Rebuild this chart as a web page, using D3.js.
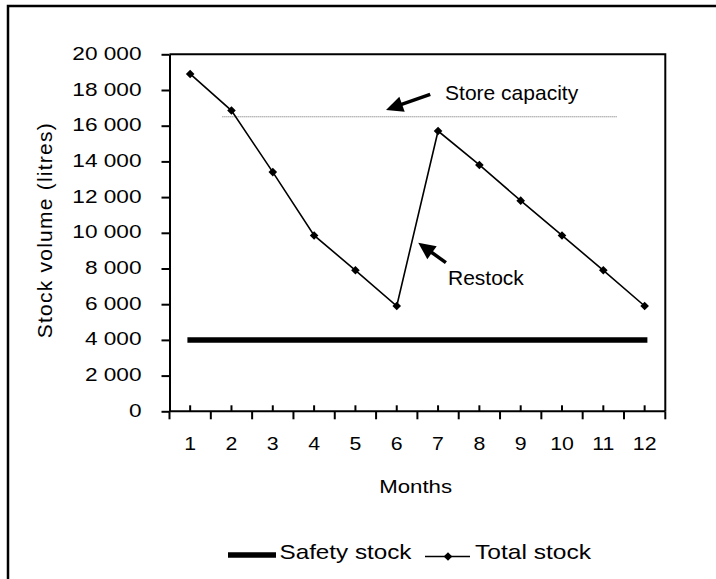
<!DOCTYPE html>
<html>
<head>
<meta charset="utf-8">
<script src="https://cdn.jsdelivr.net/npm/d3@7"></script>
<style>
  html, body { margin: 0; padding: 0; background: #fff; }
  svg { display: block; font-family: Arial, "Liberation Sans", sans-serif; }
</style>
</head>
<body>
<svg id="chart" width="716" height="579"></svg>
<script>
const months = [1, 2, 3, 4, 5, 6, 7, 8, 9, 10, 11, 12];
const totalStock = [18900, 16850, 13400, 9850, 7900, 5900, 15700, 13800, 11800, 9850, 7900, 5900];
const safetyStock = [4000, 4000, 4000, 4000, 4000, 4000, 4000, 4000, 4000, 4000, 4000, 4000];
const yTicks = [0, 2000, 4000, 6000, 8000, 10000, 12000, 14000, 16000, 18000, 20000];
const storeCapacity = 16500;
const capacitySpan = [1.78, 11.33];          // months covered by the capacity line
// annotation arrows, in month / litre units: [tail, tip]
const capacityArrow = [[6.81, 17760], [5.74, 16880]];
const restockArrow = [[7.19, 8325], [6.52, 9445]];
const capacityLabel = [7.17, 17440, "Store capacity"];
const restockLabel = [7.24, 7076, "Restock"];

const svg = d3.select("#chart");
const pLeft = 169.5, pRight = 665.3, pTop = 54.3, pBottom = 411.3;

const x = d3.scaleBand().domain(months).range([pLeft, pRight]);
const xPos = d3.scaleLinear().domain([0.5, 12.5]).range([pLeft, pRight]);
const y = d3.scaleLinear().domain([0, 20000]).range([pBottom, pTop]);

// stretch text horizontally, the source text looks wide
function stretch(sel, k) {
  sel.each(function () {
    const w = this.getComputedTextLength();
    this.setAttribute("textLength", w * k);
    this.setAttribute("lengthAdjust", "spacingAndGlyphs");
  });
}

// outer frame (cropped at right / bottom)
svg.append("path")
  .attr("d", "M8,579 L8,6 L716,6")
  .attr("fill", "none").attr("stroke", "#000").attr("stroke-width", 2.5);

// plot border top + right
svg.append("path")
  .attr("d", `M${pLeft},${pTop} L${pRight},${pTop} L${pRight},${pBottom}`)
  .attr("fill", "none").attr("stroke", "#000").attr("stroke-width", 2);

// y axis
const fmt = v => d3.format(",")(v).replace(",", " ");
const yAxis = svg.append("g")
  .attr("transform", `translate(${pLeft},0)`)
  .call(d3.axisLeft(y).tickValues(yTicks).tickSize(8).tickSizeOuter(0).tickPadding(20).tickFormat(fmt));
yAxis.select(".domain").attr("stroke-width", 2);
yAxis.selectAll(".tick line").attr("stroke-width", 2);
yAxis.selectAll(".tick text")
  .attr("font-size", 19).attr("fill", "#000")
  .attr("dy", null).attr("y", 5)
  .call(stretch, 1.19);
yAxis.attr("font-family", null);

// x axis
const xg = svg.append("g");
xg.append("line")
  .attr("x1", pLeft).attr("x2", pRight).attr("y1", y(0)).attr("y2", y(0))
  .attr("stroke", "#000").attr("stroke-width", 2);
xg.selectAll(".bound").data(d3.range(13)).join("line")
  .attr("x1", i => xPos(i + 0.5)).attr("x2", i => xPos(i + 0.5))
  .attr("y1", y(0)).attr("y2", y(0) + 8)
  .attr("stroke", "#000").attr("stroke-width", 2);
xg.selectAll(".mid").data(months).join("line")
  .attr("x1", d => x(d) + x.bandwidth() / 2).attr("x2", d => x(d) + x.bandwidth() / 2)
  .attr("y1", y(0)).attr("y2", y(0) - 6)
  .attr("stroke", "#000").attr("stroke-width", 2);
xg.selectAll("text").data(months).join("text")
  .attr("x", d => x(d) + x.bandwidth() / 2)
  .attr("y", y(0) + 39)
  .attr("text-anchor", "middle")
  .attr("font-size", 19)
  .text(d => d)
  .call(stretch, 1.12);

// axis titles
svg.append("text")
  .attr("x", 415.6).attr("y", 492.6)
  .attr("text-anchor", "middle").attr("font-size", 19)
  .text("Months")
  .call(stretch, 1.17);
svg.append("text")
  .attr("transform", `translate(51.5,${(pTop + pBottom) / 2 - 2}) rotate(-90)`)
  .attr("text-anchor", "middle").attr("font-size", 21)
  .attr("textLength", 215).attr("lengthAdjust", "spacing")
  .text("Stock volume (litres)");

// store capacity line
svg.append("line")
  .attr("x1", xPos(capacitySpan[0])).attr("x2", xPos(capacitySpan[1]))
  .attr("y1", y(storeCapacity)).attr("y2", y(storeCapacity))
  .attr("stroke", "#666").attr("stroke-width", 1).attr("stroke-dasharray", "1,1");

// safety stock
svg.append("path")
  .datum(months.map((m, i) => [m, safetyStock[i]]))
  .attr("fill", "none").attr("stroke", "#000").attr("stroke-width", 5.5)
  .attr("stroke-linecap", "square")
  .attr("d", d3.line().x(d => x(d[0]) + x.bandwidth() / 2).y(d => y(d[1])));

// total stock
const diamond = "M0,-4.3L4.3,0L0,4.3L-4.3,0Z";
svg.append("path")
  .datum(months.map((m, i) => [m, totalStock[i]]))
  .attr("fill", "none").attr("stroke", "#000").attr("stroke-width", 1.6)
  .attr("d", d3.line().x(d => x(d[0]) + x.bandwidth() / 2).y(d => y(d[1])));
svg.selectAll(".pt").data(months).join("path")
  .attr("transform", (m, i) => `translate(${x(m) + x.bandwidth() / 2},${y(totalStock[i])})`)
  .attr("d", diamond).attr("fill", "#000");

// annotation arrows
function arrow(pts) {
  const [x0, y0] = [xPos(pts[0][0]), y(pts[0][1])];
  const [x1, y1] = [xPos(pts[1][0]), y(pts[1][1])];
  const a = Math.atan2(y1 - y0, x1 - x0);
  const len = 17, hw = 8;
  const bx = x1 - len * Math.cos(a), by = y1 - len * Math.sin(a);
  svg.append("line")
    .attr("x1", x0).attr("y1", y0).attr("x2", bx + 2 * Math.cos(a)).attr("y2", by + 2 * Math.sin(a))
    .attr("stroke", "#000").attr("stroke-width", 3.5);
  svg.append("path")
    .attr("d", `M${x1},${y1}L${bx + hw * Math.sin(a)},${by - hw * Math.cos(a)}L${bx - hw * Math.sin(a)},${by + hw * Math.cos(a)}Z`)
    .attr("fill", "#000");
}
arrow(capacityArrow);
arrow(restockArrow);

[capacityLabel, restockLabel].forEach(l => {
  svg.append("text")
    .attr("x", xPos(l[0])).attr("y", y(l[1]))
    .attr("font-size", 21)
    .text(l[2]);
});

// legend
const lg = svg.append("g");
lg.append("line")
  .attr("x1", 228).attr("x2", 276).attr("y1", 555).attr("y2", 555)
  .attr("stroke", "#000").attr("stroke-width", 5.5);
lg.append("text")
  .attr("x", 279.5).attr("y", 559).attr("font-size", 21)
  .attr("textLength", 132).attr("lengthAdjust", "spacingAndGlyphs")
  .text("Safety stock");
lg.append("line")
  .attr("x1", 425).attr("x2", 470).attr("y1", 556.5).attr("y2", 556.5)
  .attr("stroke", "#000").attr("stroke-width", 1.6);
lg.append("path")
  .attr("transform", "translate(448,556.5)")
  .attr("d", diamond).attr("fill", "#000");
lg.append("text")
  .attr("x", 475).attr("y", 559).attr("font-size", 21)
  .attr("textLength", 116).attr("lengthAdjust", "spacingAndGlyphs")
  .text("Total stock");
</script>
</body>
</html>
